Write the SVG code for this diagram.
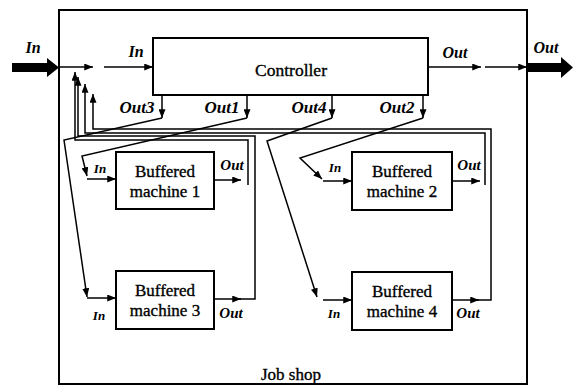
<svg xmlns="http://www.w3.org/2000/svg" width="577" height="387" viewBox="0 0 577 387">
<defs>
<marker id="ah" viewBox="0 0 10 8" refX="10" refY="4" markerWidth="9" markerHeight="7" markerUnits="userSpaceOnUse" orient="auto"><path d="M0,0 L10,4 L0,8 z" fill="#000"/></marker>
</defs>
<style>
.box{fill:#fff;stroke:#000;stroke-width:2}
.ln{fill:none;stroke:#000;stroke-width:1.5;stroke-linejoin:miter}
.ar{marker-end:url(#ah)}
.t{stroke:#000;stroke-width:0.35}
.lbl{font-style:italic;font-weight:bold}
</style>
<rect width="577" height="387" fill="#fff"/>
<g font-family="Liberation Serif, DejaVu Serif, serif" fill="#000">
<g id="jobshop">
<rect x="59" y="10" width="468" height="374" fill="none" stroke="#000" stroke-width="2"/>
<text class="t" x="291" y="380" font-size="17" text-anchor="middle">Job shop</text>
</g>
<g id="controller">
<rect class="box" x="153" y="38" width="275" height="57"/>
<text class="t" x="291" y="76" font-size="17.5" text-anchor="middle">Controller</text>
</g>
<g id="machine1">
<rect class="box" x="116" y="152" width="98" height="57"/>
<text class="t" x="165" y="177" font-size="17" text-anchor="middle">Buffered</text>
<text class="t" x="165" y="197" font-size="17" text-anchor="middle">machine 1</text>
</g>
<g id="machine2">
<rect class="box" x="352" y="152" width="100" height="58"/>
<text class="t" x="402" y="177" font-size="17" text-anchor="middle">Buffered</text>
<text class="t" x="402" y="197" font-size="17" text-anchor="middle">machine 2</text>
</g>
<g id="machine3">
<rect class="box" x="116" y="271" width="98" height="58"/>
<text class="t" x="165" y="296" font-size="17" text-anchor="middle">Buffered</text>
<text class="t" x="165" y="316" font-size="17" text-anchor="middle">machine 3</text>
</g>
<g id="machine4">
<rect class="box" x="352" y="272" width="100" height="58"/>
<text class="t" x="402" y="297" font-size="17" text-anchor="middle">Buffered</text>
<text class="t" x="402" y="317" font-size="17" text-anchor="middle">machine 4</text>
</g>
<g id="connectors">
<path d="M12,63 H47 V58 L59,67.5 L47,77 V72 H12 z" fill="#000"/>
<path class="ln ar" d="M59,67 H93"/>
<path class="ln ar" d="M104,67 H153"/>
<path class="ln ar" d="M428,67 H481"/>
<path class="ln ar" d="M485,67 H527"/>
<path d="M527,63 H561 V57 L573,67.5 L561,78 V72 H527 z" fill="#000"/>
<path class="ln ar" d="M162,95 V118"/>
<path class="ln ar" d="M247,95 V118"/>
<path class="ln ar" d="M332,95 V118"/>
<path class="ln ar" d="M423,95 V118"/>
<path class="ln ar" d="M162,118 L64,140 L87,297"/>
<path class="ln ar" d="M87,298 H116"/>
<path class="ln ar" d="M247,118 L82,156 L87,176"/>
<path class="ln ar" d="M87,179 H116"/>
<path class="ln ar" d="M332,118 L267,141 L317,297"/>
<path class="ln ar" d="M323,300 H352"/>
<path class="ln ar" d="M423,118 L300,158 L322,179"/>
<path class="ln ar" d="M323,181 H352"/>
<path class="ln ar" d="M214,180 H241"/>
<path class="ln ar" d="M248,185 V140 H75 V72"/>
<path class="ln ar" d="M214,299 H241"/>
<path class="ln ar" d="M238,299 H255 V136 H78 V77"/>
<path class="ln ar" d="M452,181 H480"/>
<path class="ln ar" d="M485,185 V133 H85 V84"/>
<path class="ln ar" d="M452,300 H479"/>
<path class="ln ar" d="M476,300 H491 V129 H93 V94"/>
</g>
<g id="labels">
<text class="lbl" x="33" y="53" font-size="16" text-anchor="middle">In</text>
<text class="lbl" x="136" y="57" font-size="16" text-anchor="middle">In</text>
<text class="lbl" x="455" y="58" font-size="16" text-anchor="middle">Out</text>
<text class="lbl" x="546" y="53" font-size="16" text-anchor="middle">Out</text>
<text class="lbl" x="137" y="113" font-size="17" text-anchor="middle">Out3</text>
<text class="lbl" x="222" y="113" font-size="17" text-anchor="middle">Out1</text>
<text class="lbl" x="309" y="113" font-size="17" text-anchor="middle">Out4</text>
<text class="lbl" x="397" y="113" font-size="17" text-anchor="middle">Out2</text>
<text class="lbl" x="100" y="173" font-size="13" text-anchor="middle">In</text>
<text class="lbl" x="232" y="170" font-size="15" text-anchor="middle">Out</text>
<text class="lbl" x="335" y="172" font-size="13" text-anchor="middle">In</text>
<text class="lbl" x="469" y="170" font-size="15" text-anchor="middle">Out</text>
<text class="lbl" x="99" y="320" font-size="13" text-anchor="middle">In</text>
<text class="lbl" x="231" y="318" font-size="15" text-anchor="middle">Out</text>
<text class="lbl" x="334" y="318" font-size="13" text-anchor="middle">In</text>
<text class="lbl" x="468" y="318" font-size="15" text-anchor="middle">Out</text>
</g>
</g>
</svg>
